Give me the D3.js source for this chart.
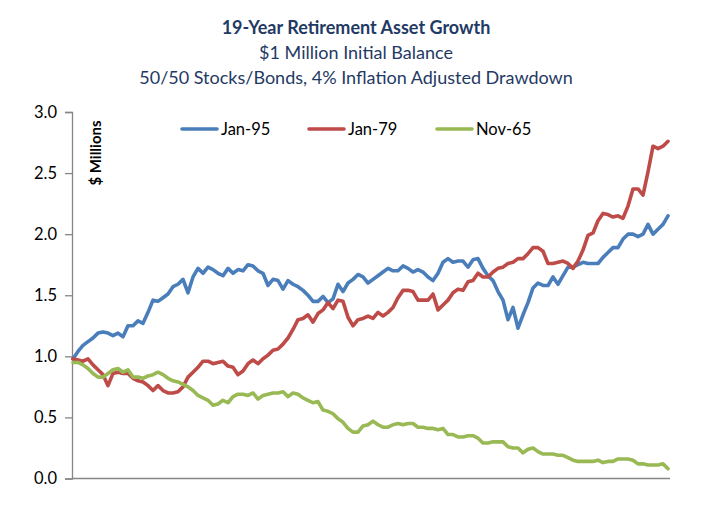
<!DOCTYPE html>
<html>
<head>
<meta charset="utf-8">
<script src="https://cdn.jsdelivr.net/npm/d3@7"></script>
<style>
  html, body { margin: 0; padding: 0; background: #fff; }
  svg { display: block; }
</style>
</head>
<body>
<svg id="chart" width="704" height="511"></svg>
<script>
// ---- Data (values in $ millions, sampled at even steps through the 19-year period) ----
const seriesNames = ["Jan-95", "Jan-79", "Nov-65"];
const seriesColors = ["#4A7EBB", "#BE4B48", "#98B954"];
const yTicks = [0.0, 0.5, 1.0, 1.5, 2.0, 2.5, 3.0];

const jan95 = [0.98,1.04,1.09,1.12,1.15,1.19,1.20,1.19,1.17,1.19,1.16,1.25,1.25,1.29,1.27,1.36,1.46,1.45,1.48,1.51,
1.57,1.59,1.63,1.52,1.65,1.72,1.68,1.73,1.71,1.68,1.66,1.72,1.68,1.71,1.70,1.75,1.74,1.70,1.68,1.58,
1.63,1.62,1.55,1.62,1.59,1.57,1.54,1.50,1.45,1.45,1.49,1.44,1.47,1.59,1.53,1.60,1.63,1.67,1.65,1.60,
1.63,1.66,1.69,1.72,1.70,1.70,1.74,1.72,1.69,1.71,1.69,1.65,1.62,1.68,1.77,1.80,1.77,1.78,1.78,1.73,
1.79,1.80,1.72,1.66,1.62,1.53,1.46,1.30,1.40,1.23,1.34,1.44,1.56,1.60,1.58,1.58,1.65,1.59,1.66,1.73,
1.73,1.75,1.77,1.76,1.76,1.76,1.81,1.85,1.89,1.89,1.96,2.00,2.00,1.98,2.00,2.08,2.00,2.04,2.08,2.15];

const jan79 = [0.98,0.97,0.96,0.98,0.93,0.89,0.85,0.76,0.86,0.87,0.86,0.86,0.82,0.80,0.79,0.76,0.72,0.76,0.72,0.70,
0.70,0.71,0.75,0.83,0.87,0.91,0.96,0.96,0.94,0.95,0.96,0.92,0.91,0.85,0.88,0.94,0.97,0.94,0.98,1.01,
1.05,1.06,1.10,1.15,1.22,1.30,1.31,1.34,1.28,1.35,1.38,1.44,1.39,1.46,1.45,1.32,1.25,1.30,1.31,1.33,
1.31,1.36,1.33,1.36,1.40,1.48,1.54,1.54,1.53,1.46,1.46,1.46,1.51,1.38,1.42,1.46,1.52,1.55,1.54,1.61,
1.62,1.68,1.65,1.65,1.69,1.72,1.73,1.76,1.77,1.80,1.80,1.84,1.89,1.89,1.86,1.76,1.76,1.77,1.78,1.76,
1.72,1.78,1.87,1.99,2.01,2.11,2.17,2.16,2.14,2.15,2.13,2.23,2.37,2.37,2.32,2.51,2.72,2.70,2.72,2.76];

const nov65 = [0.95,0.95,0.93,0.90,0.86,0.83,0.83,0.86,0.89,0.90,0.87,0.89,0.83,0.83,0.82,0.84,0.85,0.87,0.85,0.82,
0.80,0.79,0.77,0.75,0.72,0.68,0.66,0.64,0.60,0.61,0.64,0.62,0.67,0.69,0.69,0.68,0.70,0.65,0.68,0.69,
0.70,0.70,0.71,0.67,0.70,0.69,0.66,0.64,0.62,0.63,0.56,0.55,0.53,0.49,0.46,0.41,0.38,0.38,0.43,0.44,
0.47,0.44,0.42,0.42,0.44,0.45,0.44,0.45,0.45,0.42,0.42,0.41,0.41,0.40,0.41,0.36,0.36,0.34,0.34,0.35,
0.35,0.33,0.29,0.29,0.30,0.30,0.30,0.26,0.25,0.25,0.21,0.24,0.25,0.22,0.20,0.20,0.20,0.19,0.19,0.17,
0.15,0.14,0.14,0.14,0.14,0.15,0.13,0.14,0.14,0.16,0.16,0.16,0.15,0.12,0.12,0.11,0.11,0.11,0.12,0.08];

const seriesValues = [jan95, jan79, nov65];
const periods = jan95.map((_, i) => i); // period index along the x axis

// ---- Layout ----
const svg = d3.select("#chart");
const plotLeft = 72, plotRight = 670, plotTop = 112, plotBottom = 478.5;

const x = d3.scaleLinear().domain([0, periods.length - 1]).range([plotLeft + 1, plotRight - 2]);
const y = d3.scaleLinear().domain([0, 3]).range([plotBottom, plotTop]);

const axisColor = "#868686";
const titleColor = "#1F3A64";
const font = "Lato, 'Open Sans', sans-serif";

// Titles
svg.append("text").attr("x", 356).attr("y", 34).attr("text-anchor", "middle")
  .attr("font-family", font).attr("font-weight", "bold").attr("font-size", 18)
  .attr("fill", titleColor).text("19-Year Retirement Asset Growth");
svg.append("text").attr("x", 356).attr("y", 59).attr("text-anchor", "middle")
  .attr("font-family", font).attr("font-size", 18)
  .attr("fill", titleColor).text("$1 Million Initial Balance");
svg.append("text").attr("x", 356).attr("y", 84).attr("text-anchor", "middle")
  .attr("font-family", font).attr("font-size", 18)
  .attr("fill", titleColor).text("50/50 Stocks/Bonds, 4% Inflation Adjusted Drawdown");

// Y axis
const yAxis = d3.axisLeft(y).tickValues(yTicks).tickFormat(d3.format(".1f")).tickSize(7).tickPadding(8);
const gy = svg.append("g").attr("transform", `translate(${plotLeft},0)`).call(yAxis);
gy.select(".domain").attr("stroke", axisColor).attr("stroke-width", 1.3);
gy.selectAll(".tick line").attr("stroke", axisColor).attr("stroke-width", 1.3);
gy.selectAll(".tick text").attr("font-family", font).attr("font-size", 16.5).attr("fill", "#000");

// X axis (no labels)
const xAxis = d3.axisBottom(x).tickValues([]).tickSizeOuter(0);
const gx = svg.append("g").attr("transform", `translate(0,${plotBottom})`).call(xAxis);
gx.select(".domain").attr("stroke", axisColor).attr("stroke-width", 1.3)
  .attr("d", `M${plotLeft},0H${plotRight}`);

// Axis title
svg.append("text").attr("transform", "translate(101,153) rotate(-90)")
  .attr("text-anchor", "middle").attr("font-family", font).attr("font-weight", "bold")
  .attr("font-size", 15).attr("fill", "#000").text("$ Millions");

// Lines
const line = d3.line().x((d, i) => x(periods[i])).y(d => y(d)).curve(d3.curveLinear);
seriesValues.forEach((vals, k) => {
  svg.append("path").datum(vals).attr("d", line)
    .attr("fill", "none").attr("stroke", seriesColors[k]).attr("stroke-width", 3.6)
    .attr("stroke-linejoin", "round").attr("stroke-linecap", "round");
});

// Legend
const legendX = [182, 309, 437];
seriesNames.forEach((name, k) => {
  const g = svg.append("g").attr("transform", `translate(${legendX[k]},129)`);
  g.append("line").attr("x1", 0).attr("x2", 35).attr("y1", 0).attr("y2", 0)
    .attr("stroke", seriesColors[k]).attr("stroke-width", 3.6).attr("stroke-linecap", "round");
  g.append("text").attr("x", 39).attr("y", 5.5).attr("font-family", font)
    .attr("font-size", 16.5).attr("fill", "#000").text(name);
});
</script>
</body>
</html>
